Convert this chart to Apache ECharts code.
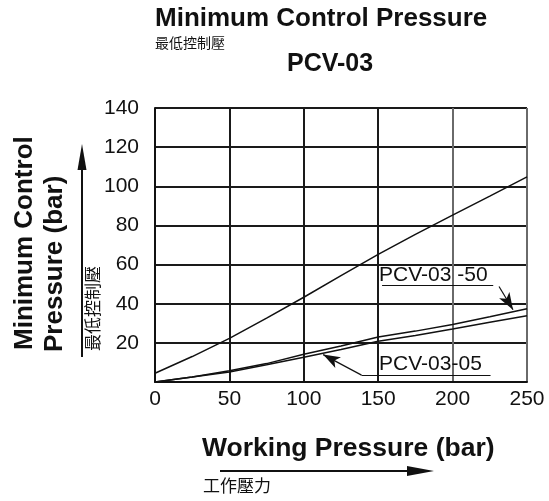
<!DOCTYPE html>
<html>
<head>
<meta charset="utf-8">
<script src="https://cdn.jsdelivr.net/npm/echarts@6/dist/echarts.min.js"></script>
<style>
html,body{margin:0;padding:0;background:#fff;}
#chart{width:549px;height:501px;}
</style>
</head>
<body>
<div id="chart"></div>
<script>
// ---- data ----
var xValues = [0, 25, 50, 75, 100, 125, 150, 175, 200, 225, 250];
var pcv03 = [4.5, 13, 22.3, 32.6, 43.3, 54.4, 65.2, 75.4, 85.3, 95, 104.8];
var pcv03_50 = [0, 2.6, 5.8, 9.4, 14.2, 18.4, 23, 26, 29.4, 33.3, 37.4];
var pcv03_05 = [0, 2.5, 5.1, 8.8, 12.7, 16.6, 20.8, 23.8, 27.1, 30.5, 33.8];
var xTicks = [0, 50, 100, 150, 200, 250];
var yTicks = [0, 20, 40, 60, 80, 100, 120, 140];

// annotation anchor points (data units)
var ann50Text = [150.6, 49.2];
var ann50Under = [[152.6, 49.2], [227.3, 49.2]];
var ann50Leader = [[231.2, 48.8], [240.6, 36.9]];
var ann05Text = [150.6, 3.5];
var ann05Under = [[138.8, 3.5], [225.5, 3.5]];
var ann05Leader = [[138.8, 3.5], [113, 14.0]];

function pairs(xs, ys) { return xs.map(function (x, i) { return [x, ys[i]]; }); }

var FONT = '"Liberation Sans", Arial, sans-serif';
var CJK = '"Noto Sans CJK TC", "Noto Sans CJK SC", sans-serif';
var INK = '#111';

var chart = echarts.init(document.getElementById('chart'), null, {renderer: 'canvas'});

var lineStyle = {color: '#111', width: 1.5};
var mlStyle = {color: '#111', width: 1.2, type: 'solid'};

var option = {
  backgroundColor: '#fff',
  animation: false,
  grid: {left: 155, right: 22, top: 108, bottom: 119, containLabel: false},
  xAxis: {
    type: 'value', min: 0, max: 250, interval: 50,
    axisLine: {show: true, lineStyle: {color: '#111', width: 2}},
    axisTick: {show: false},
    axisLabel: {color: INK, fontFamily: FONT, fontSize: 21, margin: 7},
    splitLine: {show: true, lineStyle: {color: ['#1a1a1a', '#1a1a1a', '#1a1a1a', '#1a1a1a', '#6a6a6a', '#6a6a6a'], width: 2}}
  },
  yAxis: {
    type: 'value', min: 0, max: 140, interval: 20,
    axisLine: {show: true, lineStyle: {color: '#111', width: 2}},
    axisTick: {show: false},
    axisLabel: {color: INK, fontFamily: FONT, fontSize: 21, margin: 16,
      formatter: function (v) { return v === 0 ? '' : String(v); }},
    splitLine: {show: true, lineStyle: {color: '#1a1a1a', width: 1.8}}
  },
  series: [
    {type: 'line', name: 'PCV-03', data: pairs(xValues, pcv03), showSymbol: false, symbol: 'none', lineStyle: lineStyle},
    {type: 'line', name: 'PCV-03-50', data: pairs(xValues, pcv03_50), showSymbol: false, symbol: 'none', lineStyle: lineStyle,
      markLine: {
        silent: true, symbol: 'none', label: {show: false}, lineStyle: mlStyle,
        data: [
          [{coord: ann50Under[0], symbol: 'none'}, {coord: ann50Under[1], symbol: 'none'}],
          [{coord: ann50Leader[0], symbol: 'none'}, {coord: ann50Leader[1], symbol: 'arrow', symbolSize: [9, 17]}]
        ]
      },
      markPoint: {
        silent: true, symbol: 'circle', symbolSize: 0,
        data: [{coord: ann50Text, value: 'PCV-03 -50',
          label: {show: true, position: [0, 0], align: 'left', verticalAlign: 'bottom', color: INK, fontFamily: FONT, fontSize: 21, formatter: 'PCV-03 -50'}}]
      }
    },
    {type: 'line', name: 'PCV-03-05', data: pairs(xValues, pcv03_05), showSymbol: false, symbol: 'none', lineStyle: lineStyle,
      markLine: {
        silent: true, symbol: 'none', label: {show: false}, lineStyle: mlStyle,
        data: [
          [{coord: ann05Under[0], symbol: 'none'}, {coord: ann05Under[1], symbol: 'none'}],
          [{coord: ann05Leader[0], symbol: 'none'}, {coord: ann05Leader[1], symbol: 'arrow', symbolSize: [9, 17]}]
        ]
      },
      markPoint: {
        silent: true, symbol: 'circle', symbolSize: 0,
        data: [{coord: ann05Text, value: 'PCV-03-05',
          label: {show: true, position: [0, 0], align: 'left', verticalAlign: 'bottom', color: INK, fontFamily: FONT, fontSize: 21, formatter: 'PCV-03-05'}}]
      }
    }
  ],
  graphic: [
    {type: 'text', left: 155, top: 6, style: {text: 'Minimum Control Pressure', fill: INK, font: 'bold 26px ' + FONT}},
    {type: 'text', left: 155, top: 36, style: {text: '最低控制壓', fill: INK, font: '14px ' + CJK}},
    {type: 'text', left: 287, top: 52, style: {text: 'PCV-03', fill: INK, font: 'bold 25px ' + FONT}},
    // y axis title
    {type: 'text', x: 25, y: 350, rotation: Math.PI / 2, style: {text: 'Minimum Control', fill: INK, font: 'bold 26px ' + FONT, align: 'left', verticalAlign: 'middle'}},
    {type: 'text', x: 55, y: 352, rotation: Math.PI / 2, style: {text: 'Pressure (bar)', fill: INK, font: 'bold 26px ' + FONT, align: 'left', verticalAlign: 'middle'}},
    {type: 'text', x: 93, y: 351, rotation: Math.PI / 2, style: {text: '最低控制壓', fill: INK, font: '17px ' + CJK, align: 'left', verticalAlign: 'middle'}},
    {type: 'line', shape: {x1: 82, y1: 357, x2: 82, y2: 165}, style: {stroke: INK, lineWidth: 2}},
    {type: 'polygon', shape: {points: [[82, 144], [77.5, 170], [86.5, 170]]}, style: {fill: INK}},
    // x axis title
    {type: 'text', left: 202, top: 435, style: {text: 'Working Pressure (bar)', fill: INK, font: 'bold 26.5px ' + FONT}},
    {type: 'text', left: 203, top: 477, style: {text: '工作壓力', fill: INK, font: '17px ' + CJK}},
    {type: 'line', shape: {x1: 220, y1: 471, x2: 412, y2: 471}, style: {stroke: INK, lineWidth: 2}},
    {type: 'polygon', shape: {points: [[434, 471], [407, 466], [407, 476]]}, style: {fill: INK}}
  ]
};
chart.setOption(option);
</script>
</body>
</html>
